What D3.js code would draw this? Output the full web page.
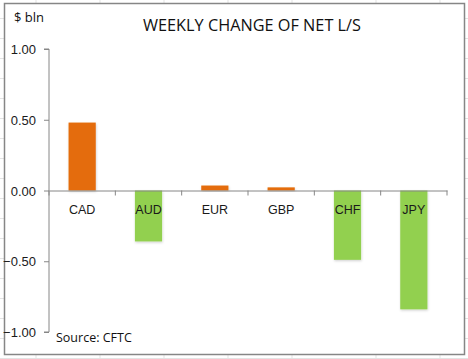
<!DOCTYPE html>
<html>
<head>
<meta charset="utf-8">
<script src="https://cdn.jsdelivr.net/npm/d3@7"></script>
<style>
  body { margin: 0; background: #fff; }
  svg { display: block; font-family: "Open Sans", "Liberation Sans", sans-serif; }
</style>
</head>
<body>
<svg id="chart" width="468" height="359"></svg>
<script>
var currencies = ["CAD", "AUD", "EUR", "GBP", "CHF", "JPY"];
var weeklyChange = [0.48, -0.36, 0.035, 0.022, -0.49, -0.84];
var yTicks = [1.00, 0.50, 0.00, -0.50, -1.00];

var data = currencies.map(function(c, i) { return {name: c, value: weeklyChange[i]}; });

var svg = d3.select("#chart");

// spreadsheet cells behind the chart
var colLines = [36, 100, 164, 228, 292, 376, 440];
svg.selectAll(".gcol").data(colLines).enter().append("line")
    .attr("x1", function(d) { return d; }).attr("x2", function(d) { return d; })
    .attr("y1", 0).attr("y2", 359)
    .attr("stroke", "#e3e3e3").attr("stroke-width", 1);
var rowLines = d3.range(18, 359, 20);
svg.selectAll(".grow").data(rowLines).enter().append("line")
    .attr("x1", 0).attr("x2", 468)
    .attr("y1", function(d) { return d + 0.5; }).attr("y2", function(d) { return d + 0.5; })
    .attr("stroke", "#e3e3e3").attr("stroke-width", 1);

// chart box
svg.append("rect")
    .attr("x", 4.5).attr("y", 3.5).attr("width", 460).attr("height", 351)
    .attr("fill", "#fff").attr("stroke", "#868686").attr("stroke-width", 1.5);

var x = d3.scaleBand().domain(currencies).range([49, 447]).paddingInner(0.59).paddingOuter(0.295),
    y = d3.scaleLinear().domain([-1, 1]).range([332, 49]);

var defs = svg.append("defs");
var f = defs.append("filter").attr("id", "shadow").attr("x", "-20%").attr("y", "-20%").attr("width", "140%").attr("height", "140%");
f.append("feDropShadow").attr("dx", 0.5).attr("dy", 1.2).attr("stdDeviation", 1)
    .attr("flood-color", "#000").attr("flood-opacity", 0.18);

// bars
svg.selectAll(".bar").data(data).enter().append("rect")
    .attr("class", "bar")
    .attr("x", function(d) { return x(d.name); })
    .attr("y", function(d) { return y(Math.max(0, d.value)); })
    .attr("width", x.bandwidth())
    .attr("height", function(d) { return Math.abs(y(d.value) - y(0)); })
    .attr("fill", function(d) { return d.value >= 0 ? "#e46c0a" : "#92d050"; })
    .attr("filter", "url(#shadow)");

// y axis
var yAxis = svg.append("g")
    .attr("transform", "translate(49,0)")
    .call(d3.axisLeft(y).tickValues(yTicks).tickSize(5).tickPadding(8)
      .tickFormat(d3.format(".2f")));
yAxis.select(".domain").attr("stroke", "#868686").attr("d", "M-5," + y(1) + "H0V" + y(-1) + "H-5");
yAxis.selectAll(".tick line").attr("stroke", "#868686");
yAxis.selectAll(".tick text").attr("fill", "#1a1a1a").style("font-size", "13px").attr("dy", "0.36em");

// x axis at zero
var xAxis = svg.append("g")
    .attr("transform", "translate(0," + y(0) + ")")
    .call(d3.axisBottom(x).tickSize(0).tickPadding(15));
xAxis.select(".domain").attr("stroke", "#868686");
xAxis.selectAll(".tick text").attr("fill", "#1a1a1a").style("font-size", "12.5px");
var bounds = [49].concat(currencies.map(function(c) { return x(c) + x.bandwidth() + x.step() * 0.295; }));
xAxis.selectAll(".sep").data(bounds).enter().append("line")
    .attr("x1", function(d) { return d; }).attr("x2", function(d) { return d; })
    .attr("y1", 0).attr("y2", 5)
    .attr("stroke", "#868686");

// texts
svg.append("text").attr("x", 252).attr("y", 31)
    .attr("text-anchor", "middle").attr("fill", "#111")
    .style("font-size", "17px").attr("textLength", 218).attr("lengthAdjust", "spacingAndGlyphs")
    .text("WEEKLY CHANGE OF NET L/S");
svg.append("text").attr("x", 14).attr("y", 22)
    .attr("fill", "#111").style("font-size", "13px")
    .text("$ bln");
svg.append("text").attr("x", 56).attr("y", 342)
    .attr("fill", "#111").style("font-size", "12.5px")
    .text("Source: CFTC");
</script>
</body>
</html>
